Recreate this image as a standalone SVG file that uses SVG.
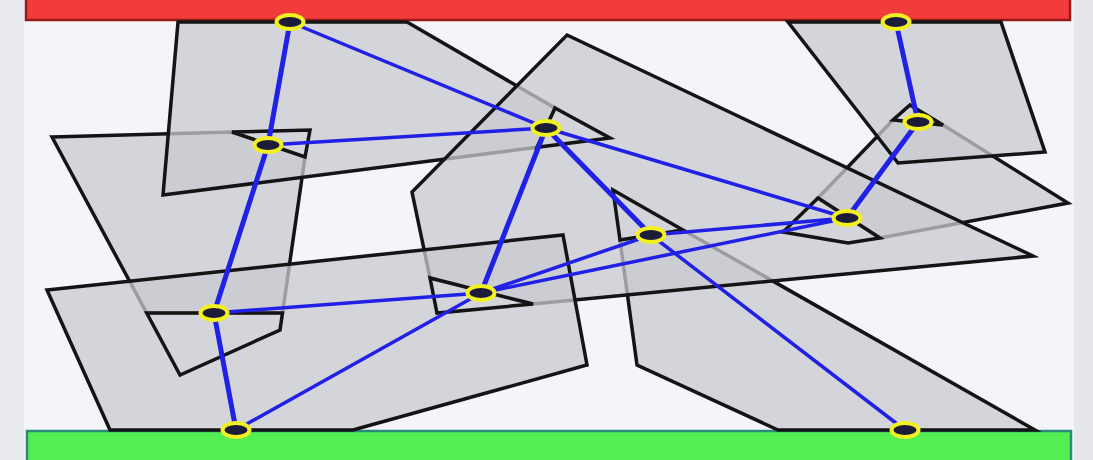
<svg xmlns="http://www.w3.org/2000/svg" width="1093" height="460" viewBox="0 0 1093 460">
  <style>
    .body { fill: #c9cad0; fill-opacity: 0.75; stroke: #141414; stroke-width: 3.5; stroke-linejoin: miter; }
    .piece { fill: none; stroke: #141414; stroke-width: 3.5; stroke-linejoin: miter; }
    .rod { stroke: #2121e6; stroke-linecap: round; fill: none; }
    .thick { stroke-width: 5; }
    .thin { stroke-width: 3.5; }
    .node ellipse { fill: #1c1c3a; stroke: #f2f020; stroke-width: 4; }
  </style>
  <rect x="0" y="0" width="1093" height="460" fill="#f4f5f9"/>
  <rect x="0" y="0" width="24" height="460" fill="#eaebef"/>
  <rect x="1074" y="0" width="19" height="460" fill="#e6e7ea"/>

  <g id="ceiling">
    <rect x="26" y="-3" width="1044" height="23" fill="#f23b3b" stroke="#9a1a1a" stroke-width="2.5"/>
  </g>
  <g id="floor">
    <rect x="27" y="431" width="1044" height="32" fill="#52ee52" stroke="#2b8a7c" stroke-width="2.5"/>
  </g>

  <g id="bodies">
    <polygon id="body-p7" class="body" points="683,230 1035,430 778,430 637,365 620,240"/>
    <polygon id="body-p6" class="body" points="893,120 943,125 1068,203 880,238 818,198"/>
    <polygon id="body-p2" class="body" points="52,137 232,132 305,157 282.5,313 146.7,313"/>
    <polygon id="body-p1" class="body" points="178,22 407,22 555,108 537,147.3 163,195"/>
    <polygon id="body-p4" class="body" points="567,35 1033,256 533,304 430,278 412,192"/>
    <polygon id="body-p3" class="body" points="47,290 563,235 587,365 353,430 110,430"/>
    <polygon id="body-p5" class="body" points="788,22 1001,22 1045,152 898,163"/>
  </g>

  <g id="pieces">
    <polygon class="piece" points="232,132 310,130 305,157"/>
    <polygon class="piece" points="146.7,313 282.5,313 280,330 180,375"/>
    <polygon class="piece" points="555,108 610,138 537,147.3"/>
    <polygon class="piece" points="430,278 437,313 533,304"/>
    <polygon class="piece" points="613,190 683,230 620,240"/>
    <polygon class="piece" points="910,105 943,125 893,120"/>
    <polygon class="piece" points="818,198 880,238 848,243 783,232"/>
  </g>

  <g id="connectors">
    <line class="rod thick" x1="290" y1="22" x2="268" y2="145"/>
    <line class="rod thick" x1="268" y1="145" x2="214" y2="313"/>
    <line class="rod thick" x1="214" y1="313" x2="236" y2="430"/>
    <line class="rod thick" x1="546" y1="128" x2="481" y2="293"/>
    <line class="rod thick" x1="896" y1="22" x2="918" y2="122"/>
    <line class="rod thick" x1="918" y1="122" x2="847" y2="218"/>
    <line class="rod thick" x1="546" y1="128" x2="651" y2="235"/>
    <line class="rod thin" x1="290" y1="22" x2="546" y2="128"/>
    <line class="rod thin" x1="268" y1="145" x2="546" y2="128"/>
    <line class="rod thin" x1="546" y1="128" x2="847" y2="218"/>
    <line class="rod thin" x1="651" y1="235" x2="847" y2="218"/>
    <line class="rod thin" x1="481" y1="293" x2="847" y2="218"/>
    <line class="rod thin" x1="481" y1="293" x2="651" y2="235"/>
    <line class="rod thin" x1="481" y1="293" x2="214" y2="313"/>
    <line class="rod thin" x1="481" y1="293" x2="236" y2="430"/>
    <line class="rod thin" x1="651" y1="235" x2="905" y2="430"/>
  </g>

  <g id="n1" class="node"><ellipse cx="290" cy="22" rx="13.5" ry="7"/></g>
  <g id="n2" class="node"><ellipse cx="268" cy="145" rx="13.5" ry="7"/></g>
  <g id="n3" class="node"><ellipse cx="546" cy="128" rx="13.5" ry="7"/></g>
  <g id="n4" class="node"><ellipse cx="896" cy="22" rx="13.5" ry="7"/></g>
  <g id="n5" class="node"><ellipse cx="918" cy="122" rx="13.5" ry="7"/></g>
  <g id="n6" class="node"><ellipse cx="847" cy="218" rx="13.5" ry="7"/></g>
  <g id="n7" class="node"><ellipse cx="651" cy="235" rx="13.5" ry="7"/></g>
  <g id="n8" class="node"><ellipse cx="481" cy="293" rx="13.5" ry="7"/></g>
  <g id="n9" class="node"><ellipse cx="214" cy="313" rx="13.5" ry="7"/></g>
  <g id="n10" class="node"><ellipse cx="236" cy="430" rx="13.5" ry="7"/></g>
  <g id="n11" class="node"><ellipse cx="905" cy="430" rx="13.5" ry="7"/></g>
</svg>
